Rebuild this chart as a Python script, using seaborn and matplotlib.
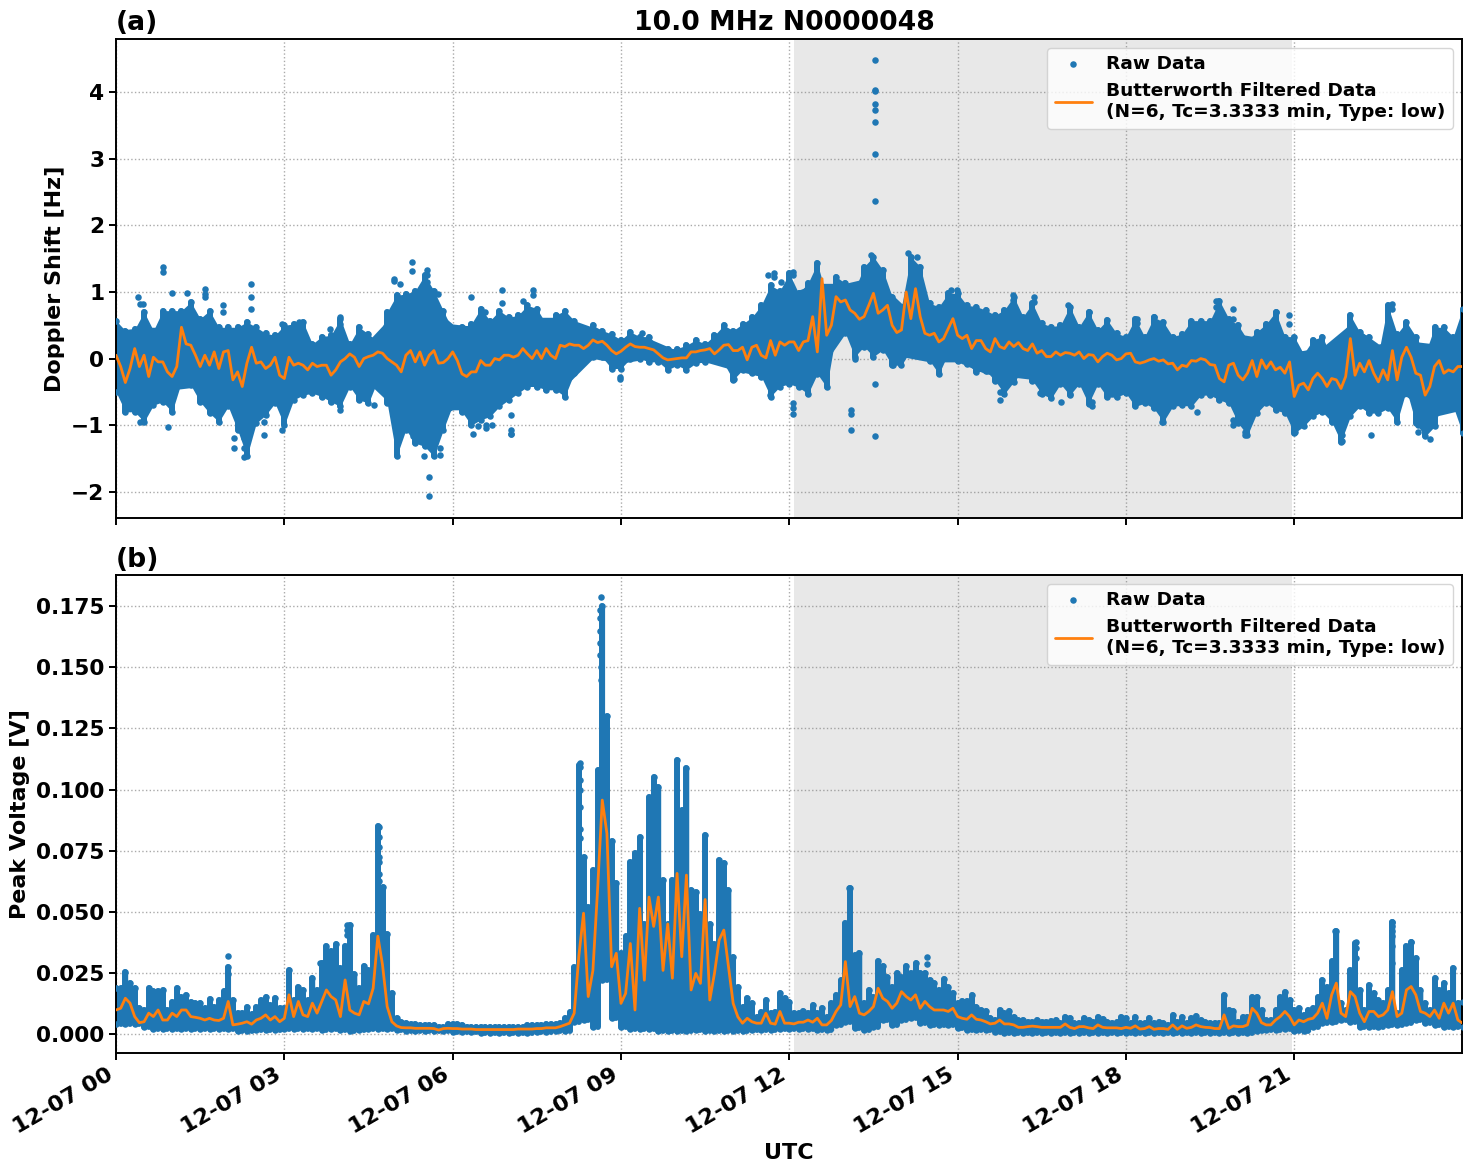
import numpy as np
import pandas as pd
import matplotlib
matplotlib.use("Agg")
import matplotlib.pyplot as plt
import matplotlib.dates as mdates
import seaborn as sns

DAY = "2021-12-07"
TITLE = "10.0 MHz N0000048"
LEGEND_RAW = "Raw Data"
LEGEND_FILT = "Butterworth Filtered Data\n(N=6, Tc=3.3333 min, Type: low)"

# Doppler shift [Hz]: outermost raw samples, one row per hour, 10 min spacing
doppler_hi = [
    .57,.42,.44,.70,.42,.72,
    .72,.72,.85,.60,.72,.47,
    .47,.47,.55,.47,.38,.35,
    .50,.52,.55,.22,.33,.35,
    .60,.22,.47,.37,.25,.70,
    .95,.97,1.02,1.25,1.02,.72,
    .42,.47,.52,.75,.57,.72,
    .62,.65,.80,.75,.52,.65,
    .72,.57,.33,.50,.42,.37,
    .28,.40,.33,.33,.18,.15,
    .15,.20,.28,.22,.35,.50,
    .42,.52,.62,.80,1.10,1.02,
    1.28,.98,1.13,1.43,.93,1.23,
    1.13,1.03,1.38,1.53,1.33,.93,
    .78,1.53,1.38,.83,.78,.98,
    .98,.80,.78,.73,.65,.73,
    .93,.63,.83,.53,.48,.50,
    .78,.48,.70,.43,.58,.38,
    .33,.60,.33,.62,.55,.33,
    .37,.57,.57,.57,.87,.60,
    .50,.28,.40,.52,.70,.33,
    .33,.07,.28,.33,.02,.22,
    .65,.40,.33,.07,.80,.37,
    .55,.33,.07,.47,.47,.33,
    .75,
]
doppler_lo = [
    -.50,-.80,-.80,-.95,-.70,-.65,
    -.80,-.35,-.40,-.65,-.82,-.95,
    -.72,-1.07,-1.47,-.97,-.85,-.67,
    -1.00,-.62,-.55,-.52,-.57,-.65,
    -.72,-.42,-.62,-.67,-.32,-.67,
    -1.47,-1.07,-1.27,-1.32,-1.47,-1.07,
    -.70,-.80,-1.00,-.92,-.87,-.72,
    -.62,-.52,-.42,-.42,-.47,-.47,
    -.57,-.22,.00,.02,.02,-.15,
    -.15,.00,.00,-.05,-.05,-.17,
    -.10,-.17,-.07,-.05,.00,-.07,
    -.32,-.17,-.22,-.27,-.57,-.42,
    -.38,-.43,-.53,-.23,-.43,.38,
    .38,.03,.18,.03,.13,-.10,
    -.10,.13,.13,-.03,-.23,.08,
    -.03,-.08,-.20,-.18,-.33,-.53,
    -.35,-.18,-.33,-.53,-.60,-.38,
    -.55,-.38,-.68,-.38,-.58,-.58,
    -.52,-.72,-.67,-.75,-.95,-.72,
    -.70,-.72,-.55,-.55,-.62,-.67,
    -.97,-1.15,-.82,-.67,-.77,-.82,
    -1.12,-1.02,-.87,-.80,-.95,-1.25,
    -.87,-.72,-.82,-.82,-.75,-.95,
    -.47,-.97,-1.17,-1.02,-.57,-.72,
    -1.12,
]
# Doppler shift [Hz]: edge of the solid part of the cloud, 30 min spacing
doppler_body_hi = [
    .42,.47,.47,.55,.42,.37,.33,.20,.22,.27,.72,.87,
    .52,.47,.57,.62,.62,.47,.27,.30,.12,.22,.42,.62,
    .98,1.13,1.13,1.23,.83,.73,.83,.65,.63,.48,.43,.38,
    .33,.33,.33,.35,.37,.30,.10,.17,.52,.22,.27,.22,
    .33,
]
doppler_body_lo = [
    -.42,-.52,-.47,-.42,-.57,-.72,-.67,-.47,-.42,-.37,-.77,-.97,
    -.77,-.77,-.52,-.37,-.42,.00,-.07,.00,-.10,-.05,-.17,-.27,
    -.23,-.23,.38,.18,.03,-.05,-.05,-.23,-.28,-.33,-.38,-.38,
    -.42,-.42,-.57,-.52,-.77,-.62,-.82,-.77,-.72,-.67,-.57,-.87,
    -.77,
]
# Isolated Doppler samples away from the cloud (hour of day, Hz)
doppler_out_h = [
    .83,.83,1.0,.40,.42,.49,1.27,1.59,1.59,1.59,1.90,1.90,2.40,2.40,2.40,.42,.92,2.11,2.11,
    2.29,2.29,2.29,2.63,2.63,2.96,2.96,3.27,3.27,3.82,3.99,3.99,4.0,4.6,4.95,4.95,5.06,5.28,5.28,
    5.55,5.55,5.55,5.74,5.58,5.58,5.3,5.77,5.77,5.49,
    6.32,6.88,7.43,7.43,6.88,7.26,6.57,7.04,7.04,7.04,7.04,6.36,6.6,6.6,6.71,6.45,8.98,8.98,
    11.02,11.02,11.62,11.73,11.73,11.86,12.07,12.07,11.65,9.37,
    13.52,13.52,13.52,13.52,13.52,13.52,13.52,13.52,13.52,13.52,13.1,13.1,13.1,12.06,12.06,12.06,
    13.45,14.11,14.27,14.89,14.99,15.99,15.99,16.36,16.36,16.97,17.34,16.85,17.4,17.4,15.75,15.75,
    13.17,13.17,13.85,17.0,16.46,
    19.6,19.6,19.6,19.9,19.9,20.68,20.68,20.9,20.9,18.2,18.2,18.5,18.5,18.65,19.26,20.12,20.12,
    19.9,19.9,22.36,21.85,21.85,23.2,23.2,23.2,23.42,22.75,22.75,21.02,
]
doppler_out_v = [
    1.37,1.30,.98,.92,-.95,.82,.98,1.05,.97,.93,.80,.70,1.12,.93,.75,.82,-1.03,-1.20,-1.35,
    -1.48,-1.35,-1.20,-.95,-1.15,-1.07,.52,.55,.47,.45,.62,.52,-.78,-.70,1.20,1.17,1.12,1.45,1.32,
    1.33,1.25,1.15,.97,-1.78,-2.07,-1.17,-1.35,-1.45,-1.47,
    .93,1.03,1.03,.96,.84,.87,.70,-.85,-1.07,-1.13,-1.14,-1.13,-1.05,-1.00,-1.00,-1.02,-.27,-.30,
    -.30,-.22,1.25,1.29,1.22,1.15,1.25,1.30,-.55,.38,
    4.48,4.02,4.04,3.83,3.73,3.56,3.08,2.36,-.38,-1.16,-.78,-.83,-1.07,-.67,-.75,-.84,
    1.55,1.59,1.53,1.03,1.03,.95,.88,.93,.85,.80,.70,-.66,-.65,-.72,-.62,-.50,
    .00,.12,-.10,-.53,-.51,
    .87,.78,.60,.75,.60,.70,.45,.65,.52,.60,.53,.63,.55,-.95,-.80,-1.15,-1.10,
    -.92,-1.00,-1.15,-1.24,-1.15,-.92,-1.00,-1.10,-1.21,.82,.75,-1.10,
]
# Filtered Doppler shift [Hz], one row per hour, 5 min spacing
doppler_filt = [
    .05,-.12,-.36,-.15,.15,-.12,.05,-.27,.02,-.05,-.05,-.20,
    -.27,-.12,.47,.22,.20,.05,-.12,.05,-.10,.10,-.15,.10,
    .12,-.32,-.20,-.42,-.07,.17,-.07,-.05,-.15,-.10,.02,-.25,
    -.30,.02,-.10,-.07,-.10,-.17,-.07,-.12,-.10,-.10,-.25,-.17,
    -.05,.00,.07,.02,-.12,.00,.03,.05,.10,.08,.00,-.05,
    -.10,-.20,.05,.12,-.05,.10,-.10,.05,.12,-.07,-.06,.00,
    .10,-.03,-.23,-.27,-.20,-.20,-.03,-.10,-.10,.00,-.02,.05,
    .05,.02,.05,.15,.07,.00,.12,.00,.15,.05,.00,.20,
    .18,.22,.20,.20,.15,.20,.28,.24,.26,.20,.12,.07,
    .11,.17,.22,.18,.17,.17,.15,.13,.07,.01,-.02,-.01,
    .00,.01,.01,.10,.10,.12,.13,.15,.07,.13,.20,.21,
    .12,.12,.17,-.02,.17,.20,.05,.01,.27,.05,.25,.20,
    .25,.25,.12,.25,.27,.63,.10,1.20,.35,.50,.93,.85,
    .88,.73,.68,.59,.63,.80,.98,.68,.73,.80,.50,.39,
    .43,1.00,.60,1.05,.63,.38,.35,.38,.25,.30,.45,.60,
    .35,.30,.35,.15,.27,.27,.15,.10,.30,.18,.15,.25,
    .18,.24,.15,.12,.22,.08,.12,.03,.03,.10,.05,.09,
    .08,.05,.10,.00,.06,.05,-.05,.03,.08,.05,-.02,.00,
    .07,.08,-.05,-.07,-.05,-.02,.00,-.04,-.02,-.08,-.07,-.17,
    -.10,-.12,-.03,-.04,.00,-.02,-.09,-.10,-.30,-.35,-.10,-.07,
    -.25,-.32,-.22,-.03,-.27,-.02,-.15,-.05,-.17,-.13,-.22,-.05,
    -.57,-.40,-.37,-.47,-.30,-.22,-.30,-.42,-.30,-.32,-.45,-.27,
    .30,-.25,-.07,-.20,-.03,-.22,-.35,-.17,-.32,.12,-.32,.02,
    .17,.02,-.22,-.25,-.55,-.42,-.12,-.03,-.22,-.17,-.20,-.12,
    -.12,
]

# Peak voltage [V]: upper edge of the raw cloud, one row per hour, 5 min spacing
voltage_hi = [
    .0187,.019,.0255,.021,.019,.0105,.010,.019,.0175,.0175,.018,.010,
    .013,.019,.015,.016,.013,.0125,.0125,.0105,.0145,.011,.014,.0175,
    .0275,.014,.0085,.0085,.011,.008,.011,.014,.0153,.012,.0146,.0105,
    .0105,.026,.014,.0194,.018,.014,.0228,.018,.029,.0358,.034,.037,
    .027,.0358,.0447,.0245,.019,.028,.026,.0405,.085,.060,.041,.0167,
    .0064,.005,.0044,.0041,.004,.0037,.0037,.0037,.0037,.003,.003,.0041,
    .004,.004,.0035,.003,.003,.003,.003,.003,.003,.003,.003,.003,
    .003,.003,.003,.003,.0035,.0035,.0035,.0035,.004,.004,.004,.0045,
    .0064,.009,.0275,.110,.0725,.052,.067,.108,.175,.130,.079,.0616,
    .033,.040,.0705,.074,.0807,.045,.097,.105,.101,.063,.045,.063,
    .112,.0916,.109,.059,.058,.049,.0814,.045,.037,.071,.070,.059,
    .0316,.0194,.011,.0146,.0125,.007,.009,.014,.0085,.009,.0167,.0146,
    .013,.0085,.0085,.0092,.0085,.012,.0085,.0105,.007,.0126,.016,.022,
    .0453,.0597,.0324,.033,.0126,.018,.0153,.030,.0276,.0235,.0194,.025,
    .0235,.0276,.025,.029,.025,.025,.022,.0208,.018,.0225,.0194,.0167,
    .0126,.0133,.0133,.016,.0112,.0098,.0092,.0064,.0057,.0098,.0085,.0092,
    .0071,.0057,.0057,.005,.005,.0057,.005,.005,.0054,.0057,.0044,.0071,
    .0065,.0044,.0046,.0064,.0057,.005,.0071,.006,.005,.0044,.005,.0071,
    .0064,.0044,.0068,.0046,.0046,.0064,.0046,.005,.0044,.0037,.0078,.005,
    .0071,.0044,.0064,.0074,.0057,.005,.0044,.0044,.0044,.016,.0098,.0092,
    .005,.0071,.0071,.0153,.0153,.0098,.0057,.0057,.0098,.0153,.0173,.0139,
    .0098,.0105,.0078,.0098,.0105,.0153,.022,.0194,.030,.042,.0126,.0098,
    .026,.0372,.018,.0098,.020,.0167,.0139,.0126,.018,.046,.0085,.026,
    .0358,.0378,.031,.018,.0126,.0098,.0228,.018,.0208,.0167,.027,.0126,
    .013,
]
# Peak voltage [V]: lower edge of the raw cloud, one row per hour, 10 min spacing
voltage_lo = [
    .004,.004,.004,.003,.002,.002,
    .002,.002,.002,.002,.002,.002,
    .002,.001,.001,.0015,.0015,.0015,
    .002,.002,.002,.002,.0015,.002,
    .0015,.001,.0015,.002,.002,.002,
    .0015,.001,.001,.001,.001,.001,
    .0007,.0007,.0007,.0005,.0005,.0005,
    .0005,.0005,.0005,.0007,.0007,.001,
    .001,.005,.0057,.003,.022,.0064,
    .003,.002,.002,.002,.001,.001,
    .001,.001,.0015,.001,.001,.001,
    .001,.001,.0015,.0015,.0015,.002,
    .002,.002,.002,.0015,.0015,.0037,
    .005,.0023,.0016,.003,.0057,.0037,
    .0057,.0064,.0044,.0037,.0037,.0037,
    .0023,.0016,.0018,.0016,.0007,.0003,
    .0005,.0005,.0005,.0005,.0005,.0005,
    .0005,.0005,.0005,.0005,.0005,.0005,
    .0005,.0003,.0003,.0003,.0003,.0003,
    .0003,.0003,.0003,.0003,.0003,.0003,
    .0005,.0005,.001,.0015,.0018,.002,
    .001,.001,.003,.0044,.005,.0057,
    .005,.003,.003,.003,.0037,.0037,
    .0044,.0057,.0044,.0037,.003,.003,
    .003,
]
# Isolated voltage samples above the cloud (hour of day, V)
voltage_out_h = [
    2.0,2.0,4.69,4.69,4.69,4.69,4.69,4.69,4.69,4.12,4.12,4.12,3.63,
    8.27,8.27,8.27,8.27,8.27,8.27,8.27,
    8.64,8.63,8.63,8.62,8.63,8.62,8.64,8.64,
    13.06,14.45,14.45,
    22.74,22.74,22.74,22.74,22.74,22.74,23.08,22.1,22.1,22.1,21.73,
]
voltage_out_v = [
    .032,.0245,.0845,.0805,.0765,.0725,.0705,.0655,.0625,.0445,.0425,.0405,.029,
    .1107,.1093,.1039,.100,.0927,.0837,.080,
    .1788,.1735,.170,.165,.160,.155,.150,.145,
    .0597,.0314,.0287,
    .0458,.044,.042,.040,.0358,.029,.0376,.0378,.035,.031,.042,
]
# Filtered peak voltage [V], one row per hour, 5 min spacing
voltage_filt = [
    .0098,.0105,.0146,.0126,.0071,.0046,.005,.0085,.0071,.0098,.0057,.0057,
    .0085,.0071,.0098,.0098,.0071,.0068,.0064,.0057,.0064,.0057,.0055,.0064,
    .0133,.0037,.004,.0044,.005,.004,.0057,.0064,.0078,.0057,.0071,.005,
    .0064,.016,.0071,.0133,.0078,.0071,.0126,.0085,.0133,.018,.0153,.0139,
    .0071,.0221,.0098,.0085,.0078,.0133,.0123,.0187,.040,.0283,.0112,.005,
    .0033,.0026,.0025,.0025,.0023,.0023,.0023,.0023,.0022,.0016,.0022,.0023,
    .0022,.0022,.002,.002,.002,.0018,.0018,.0018,.0018,.0018,.0018,.0018,
    .0018,.0018,.002,.002,.002,.002,.0022,.0022,.0025,.0025,.0025,.003,
    .0037,.0044,.0085,.032,.0494,.0153,.026,.059,.0957,.082,.0275,.033,
    .0125,.0166,.037,.0098,.0514,.022,.056,.044,.056,.026,.045,.0228,
    .0657,.0316,.065,.018,.0248,.0207,.055,.0139,.0248,.0384,.0425,.0275,
    .0125,.007,.0044,.0064,.005,.0044,.0044,.0085,.0044,.004,.0092,.0044,
    .0044,.0041,.0048,.0048,.0057,.0048,.0064,.0037,.0037,.0055,.0092,.0119,
    .0296,.0112,.0153,.0085,.0078,.0092,.0112,.0187,.0146,.0133,.0105,.0126,
    .0173,.0153,.0139,.016,.0105,.0133,.0112,.0098,.0098,.0098,.0092,.0105,
    .0071,.0064,.006,.0078,.006,.0057,.005,.0041,.0044,.0057,.0041,.0041,
    .0037,.0027,.0027,.003,.0032,.003,.0027,.0027,.0027,.0027,.0027,.0041,
    .0027,.0022,.003,.003,.0025,.0022,.0037,.0027,.0025,.0025,.0025,.0022,
    .0027,.0023,.0033,.002,.0022,.003,.0019,.0022,.0022,.0019,.0037,.0019,
    .0033,.0023,.0027,.0037,.003,.0027,.0026,.0022,.0022,.0078,.0023,.0033,
    .003,.003,.0037,.0105,.0085,.0046,.0037,.0037,.0057,.0071,.0092,.0071,
    .0037,.0057,.005,.006,.0064,.0085,.0126,.0064,.016,.0208,.0085,.0071,
    .0173,.0153,.0085,.005,.0092,.0092,.0071,.0078,.0098,.0173,.0071,.0085,
    .018,.0194,.016,.0092,.0085,.0071,.0098,.0064,.0126,.0085,.0126,.0057,
    .0044,
]


def clock(count, step):
    return pd.date_range(DAY, periods=count, freq=step)


def from_hours(hours):
    return pd.Timestamp(DAY) + pd.to_timedelta(hours, unit="h")


assert len(doppler_hi) == len(doppler_lo) == len(voltage_lo) == 145
assert len(doppler_filt) == len(voltage_hi) == len(voltage_filt) == 289
assert len(doppler_body_hi) == len(doppler_body_lo) == 49
assert len(doppler_out_h) == len(doppler_out_v)
assert len(voltage_out_h) == len(voltage_out_v)

sns.set_theme(style="ticks")
plt.rcParams.update({
    "font.family": ["DejaVu Sans"],
    "font.weight": "bold",
    "font.size": 16,
    "axes.labelweight": "bold",
    "axes.labelsize": 16,
    "axes.titleweight": "bold",
    "axes.titlesize": 19.2,
    "axes.edgecolor": "black",
    "axes.linewidth": 1.4,
    "xtick.labelsize": 16.2,
    "ytick.labelsize": 15.6,
    "xtick.color": "black",
    "ytick.color": "black",
    "text.color": "black",
    "axes.labelcolor": "black",
    "xtick.major.size": 5,
    "ytick.major.size": 5,
    "xtick.major.width": 1.4,
    "ytick.major.width": 1.4,
})

BLUE = "#1f77b4"
ORANGE = "#ff7f0e"

fig = plt.figure(figsize=(14.72, 11.72), dpi=100)
ax_a = fig.add_axes([116 / 1472, 1 - 518 / 1172, 1346 / 1472, 479 / 1172])
ax_b = fig.add_axes([116 / 1472, 1 - 1053 / 1172, 1346 / 1472, 478 / 1172], sharex=ax_a)


def draw_panel(ax, hi, hi_step, lo, out_h, out_v, filt, body=None):
    hi_t = clock(len(hi), hi_step)
    lo_t = clock(len(lo), "10min")
    # The lower edge is read more coarsely; carry it onto the upper edge's clock
    lower = pd.Series(lo, index=lo_t).reindex(hi_t).ffill().values
    if body is None:
        ax.fill_between(hi_t, lower, hi, step="mid", color=BLUE, linewidth=0, zorder=2)
    else:
        ax.fill_between(hi_t, lower, hi, color=BLUE, linewidth=0, zorder=2)
        ax.fill_between(clock(len(body[0]), "30min"), body[1], body[0], color=BLUE, linewidth=0, zorder=2)
    # Round-capped columns stand in for the tightly stacked samples at each time
    ax.vlines(hi_t, lower, hi, color=BLUE, linewidth=4.3, capstyle="round", zorder=2)
    raw = pd.DataFrame({
        "t": list(hi_t) + list(lo_t) + list(from_hours(np.array(out_h))),
        "v": list(hi) + list(lo) + list(out_v),
    })
    sns.scatterplot(data=raw, x="t", y="v", ax=ax, color=BLUE, s=22, linewidth=0, label=LEGEND_RAW, zorder=3)
    line = pd.DataFrame({"t": clock(len(filt), "5min"), "v": filt})
    sns.lineplot(data=line, x="t", y="v", ax=ax, color=ORANGE, linewidth=2, errorbar=None, label=LEGEND_FILT, zorder=4)
    ax.axvspan(from_hours(12.08), from_hours(20.96), color="gray", alpha=0.18, linewidth=0, zorder=1)
    ax.grid(True, linestyle=":", color="#aaaaaa", linewidth=1)
    ax.set_axisbelow(True)
    ax.set_xlim(pd.Timestamp(DAY), from_hours(23.99))
    ax.legend(loc="upper right", frameon=True, framealpha=0.8, borderaxespad=0.48,
              prop={"weight": "bold", "size": 13.3})
    for side in ax.spines.values():
        side.set_visible(True)
        side.set_color("black")


draw_panel(ax_a, doppler_hi, "10min", doppler_lo, doppler_out_h, doppler_out_v, doppler_filt,
           body=(doppler_body_hi, doppler_body_lo))
draw_panel(ax_b, voltage_hi, "5min", voltage_lo, voltage_out_h, voltage_out_v, voltage_filt)

ax_a.set_ylim(-2.395, 4.80)
ax_a.set_yticks([-2, -1, 0, 1, 2, 3, 4])
ax_a.set_ylabel("Doppler Shift [Hz]")
ax_a.set_xlabel("")
ax_a.set_title(TITLE, x=0.4965, pad=6.5)
ax_a.set_title("(a)", loc="left", pad=6.5)
ax_a.tick_params(labelbottom=False)

ax_b.set_ylim(-0.0078, 0.1878)
ax_b.set_yticks([0, .025, .05, .075, .1, .125, .15, .175])
ax_b.set_yticklabels(["0.000", "0.025", "0.050", "0.075", "0.100", "0.125", "0.150", "0.175"])
ax_b.set_ylabel("Peak Voltage [V]")
ax_b.set_xlabel("UTC")
ax_b.set_title("(b)", loc="left", fontsize=19.2, pad=6)
ax_b.xaxis.set_major_locator(mdates.HourLocator(byhour=range(0, 24, 3)))
ax_b.xaxis.set_major_formatter(mdates.DateFormatter("%m-%d %H"))
for label in ax_b.get_xticklabels():
    label.set_rotation(30)
    label.set_ha("right")

fig.savefig("out.png", dpi=100)
